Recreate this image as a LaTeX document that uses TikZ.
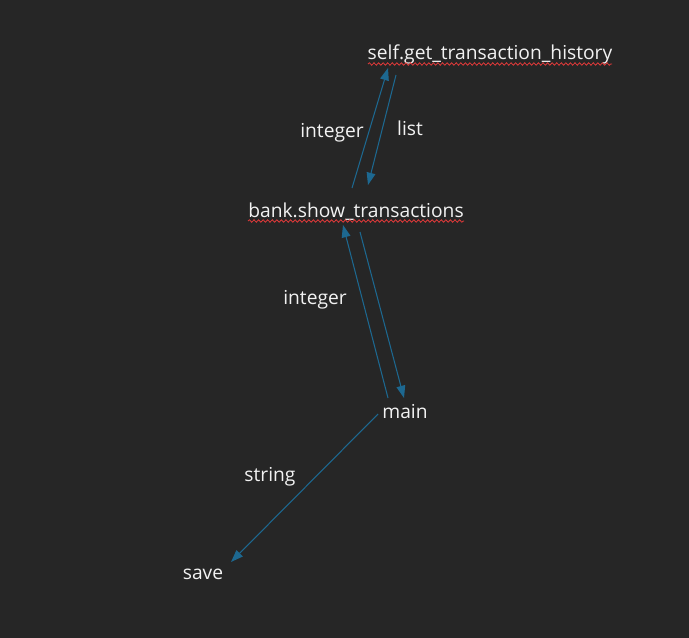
\documentclass[tikz,border=0pt]{standalone}
\usepackage{fontspec}
\setmainfont{Open Sans}
\usetikzlibrary{arrows.meta,decorations.pathmorphing}
\definecolor{bg}{HTML}{262626}
\definecolor{fg}{HTML}{F2F2F2}
\definecolor{wire}{HTML}{1D6890}
\definecolor{squiggle}{HTML}{E23A3A}
\tikzset{
	fn/.style={text=fg,inner sep=0pt,font=\fontsize{10.95}{13}\selectfont},
	lbl/.style={text=fg,inner sep=0pt,font=\fontsize{10.95}{13}\selectfont},
	flow/.style={draw=wire,line width=0.6pt,-{Triangle[length=7pt,width=5pt]}},
	typo/.style={draw=squiggle,line width=0.45pt,decorate,decoration={snake,amplitude=0.7pt,segment length=2.6pt}}
}
\begin{document}
\begin{tikzpicture}[x=0.02cm,y=-0.02cm]
            \fill[bg] (0,0) rectangle (689,638);
            \useasboundingbox (0,0) rectangle (689,638);
            \node[fn] (self) at (490,54) {self.get\_transaction\_history};
            \node[fn] (bank) at (356,212) {bank.show\_transactions};
            \node[fn] (main) at (405,412) {main};
            \node[fn] (save) at (203,574) {save};
            \node[lbl] (int1) at (332,133) {integer};
            \node[lbl] (lst) at (410,128) {list};
            \node[lbl] (int2) at (315,300) {integer};
            \node[lbl] (str) at (270,477) {string};
            \draw[typo] ([shift={(-122,10)}]self.center) -- ([shift={(122,10)}]self.center);
            \draw[typo] ([shift={(-108,9)}]bank.center) -- ([shift={(108,9)}]bank.center);
            \draw[flow] ([shift={(-4,-24)}]bank.center) -- ([shift={(-102,14)}]self.center);
            \draw[flow] ([shift={(-94,21)}]self.center) -- ([shift={(12,-27)}]bank.center);
            \draw[flow] ([shift={(-17,-14)}]main.center) -- ([shift={(-13,13)}]bank.center);
            \draw[flow] ([shift={(4,20)}]bank.center) -- ([shift={(-1,-14)}]main.center);
            \draw[flow] ([shift={(-27,2)}]main.center) -- ([shift={(28,-12)}]save.center);
        \end{tikzpicture}
\end{document}
